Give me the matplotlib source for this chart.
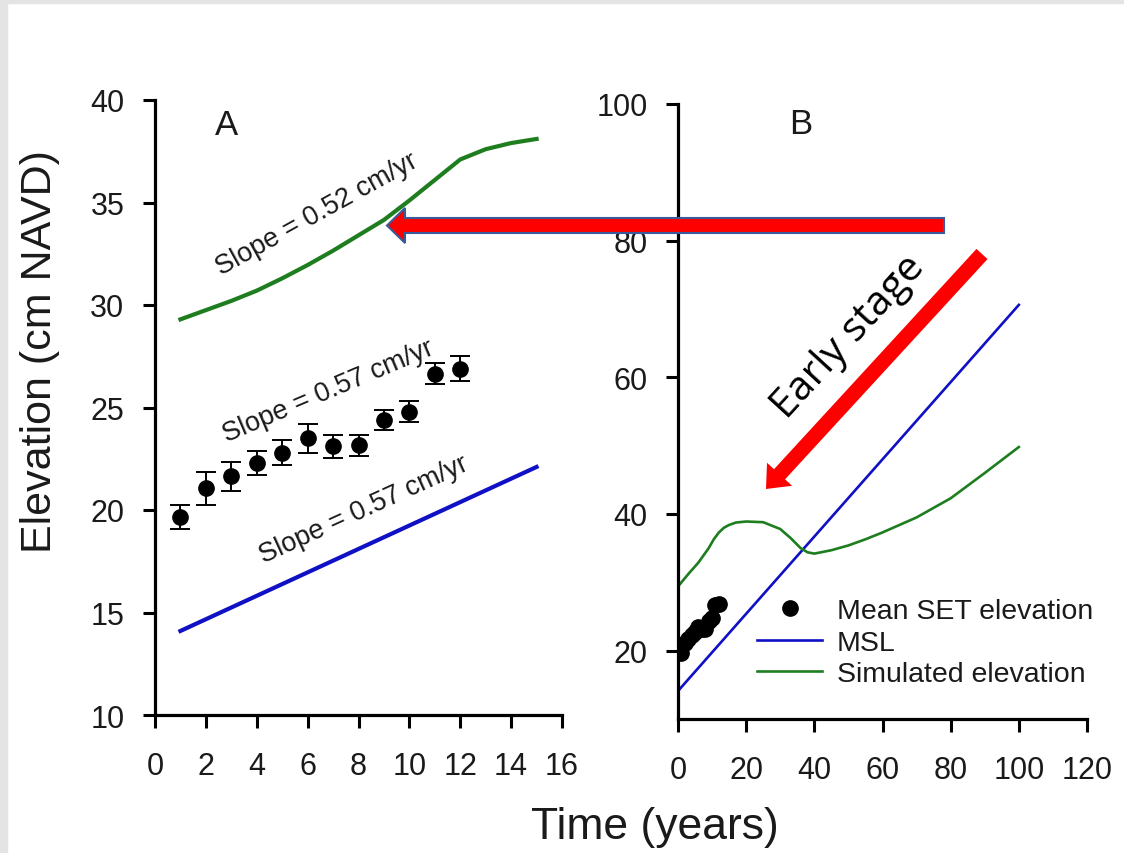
import matplotlib
matplotlib.use("Agg")
import matplotlib.pyplot as plt
from matplotlib.patches import FancyArrow, Rectangle

plt.rcParams['font.family'] = ['Liberation Sans', 'DejaVu Sans']

# ── data ─────────────────────────────────────────────────────────────────────
set_years = [1, 2, 3, 4, 5, 6, 7, 8, 9, 10, 11, 12]
set_elev = [19.65, 21.05, 21.65, 22.3, 22.8, 23.5, 23.1, 23.15, 24.4, 24.8, 26.65, 26.9]
set_err = [0.6, 0.8, 0.7, 0.6, 0.6, 0.7, 0.55, 0.5, 0.5, 0.5, 0.5, 0.6]

sim_a_years = [1, 2, 3, 4, 5, 6, 7, 8, 9, 10, 11, 12, 13, 14, 15]
sim_a_elev = [29.3, 29.75, 30.2, 30.7, 31.3, 31.95, 32.65, 33.4, 34.15, 35.1, 36.1,
              37.1, 37.6, 37.9, 38.1]

msl_a_years = [1, 15]
msl_a_elev = [14.1, 22.1]

msl_b_years = [0, 100]
msl_b_elev = [14.1, 70.6]

sim_b_years = [0, 3, 6, 9, 10.5, 12, 13.5, 15, 17, 20, 25, 30, 33, 36, 38, 40,
               45, 50, 55, 60, 70, 80, 90, 100]
sim_b_elev = [29.4, 31.2, 32.9, 35.0, 36.3, 37.3, 38.0, 38.4, 38.75, 38.9, 38.8,
              37.8, 36.5, 35.0, 34.4, 34.2, 34.7, 35.4, 36.3, 37.3, 39.5, 42.3,
              46.0, 49.8]

a_xticks = [0, 2, 4, 6, 8, 10, 12, 14, 16]
a_yticks = [10, 15, 20, 25, 30, 35, 40]
b_xticks = [0, 20, 40, 60, 80, 100, 120]
b_yticks = [20, 40, 60, 80, 100]

GREEN = '#1e7d1e'
BLUE = '#1010c4'
TXT = '#1a1a1a'

W, H = 1124, 854
fig = plt.figure(figsize=(W / 100, H / 100), dpi=100)
fig.patch.set_facecolor('white')

# light gray frame on the top and left edges
fig.patches.append(Rectangle((0, 0), 7 / W, 1, transform=fig.transFigure,
                             color='#e4e4e4', zorder=0))
fig.patches.append(Rectangle((0, 1 - 4 / H), 1, 4 / H, transform=fig.transFigure,
                             color='#e4e4e4', zorder=0))

axA = fig.add_axes([155 / W, 1 - 716 / H, 407 / W, 615 / H])
axB = fig.add_axes([678 / W, 1 - 720 / H, 409 / W, 615 / H])


def style(ax):
    for s in ['top', 'right']:
        ax.spines[s].set_visible(False)
    for s in ['left', 'bottom']:
        ax.spines[s].set_linewidth(2.3)
        ax.spines[s].set_color('black')
    ax.tick_params(axis='both', direction='out', length=9, width=2.2,
                   labelsize=22, labelcolor=TXT)
    ax.tick_params(axis='x', pad=17)
    ax.tick_params(axis='y', pad=13)
    ax.set_facecolor('none')


# ── panel A ──────────────────────────────────────────────────────────────────
axA.plot(sim_a_years, sim_a_elev, color=GREEN, lw=3.0)
axA.plot(msl_a_years, msl_a_elev, color=BLUE, lw=3.0)
axA.errorbar(set_years, set_elev, yerr=set_err, fmt='o', color='black',
             ms=11, capsize=7, elinewidth=1.4, capthick=1.4)
axA.set_xlim(0, 16)
axA.set_ylim(10, 40)
axA.set_xticks(a_xticks)
axA.set_yticks(a_yticks)
style(axA)

axA.text(2.8, 38.8, 'A', fontsize=25, color=TXT, ha='center', va='center')
axA.text(6.37, 34.45, 'Slope = 0.52 cm/yr', fontsize=19.5, color=TXT, rotation=29,
         ha='center', va='center', rotation_mode='anchor')
axA.text(6.8, 25.8, 'Slope = 0.57 cm/yr', fontsize=19.5, color=TXT, rotation=23,
         ha='center', va='center', rotation_mode='anchor')
axA.text(8.2, 20.05, 'Slope = 0.57 cm/yr', fontsize=19.5, color=TXT, rotation=24.5,
         ha='center', va='center', rotation_mode='anchor')

# ── panel B ──────────────────────────────────────────────────────────────────
axB.plot(set_years, set_elev, 'o', color='black', ms=11, label='Mean SET elevation')
axB.plot(msl_b_years, msl_b_elev, color=BLUE, lw=1.9, label='MSL')
axB.plot(sim_b_years, sim_b_elev, color=GREEN, lw=1.9, label='Simulated elevation')
axB.set_xlim(0, 120)
axB.set_ylim(10, 100)
axB.set_xticks(b_xticks)
axB.set_yticks(b_yticks)
style(axB)
axB.text(36, 97.1, 'B', fontsize=25, color=TXT, ha='center', va='center')

leg = axB.legend(loc='upper left', bbox_to_anchor=(757 / W, 1 - 599 / H),
                 bbox_transform=fig.transFigure, frameon=False, fontsize=20.5,
                 handlelength=2.3, handletextpad=0.5, labelspacing=0.2,
                 borderpad=0, borderaxespad=0)
for t in leg.get_texts():
    t.set_color(TXT)

# shared axis labels
fig.text(655 / W, 1 - 828 / H, 'Time (years)', fontsize=32, color=TXT,
         ha='center', va='center')
fig.text(40 / W, 1 - 352 / H, 'Elevation (cm NAVD)', fontsize=31, color=TXT,
         ha='center', va='center', rotation=90)

# ── arrows (figure inches) ───────────────────────────────────────────────────
inch = fig.dpi_scale_trans
fig.patches.append(FancyArrow(9.44, (H - 226.5) / 100, -5.57, 0, width=0.15,
                              head_width=0.35, head_length=0.18,
                              length_includes_head=True, facecolor='#ff0000',
                              edgecolor='#3a5a9a', lw=1.5, transform=inch,
                              zorder=5))
fig.patches.append(FancyArrow(9.82, (H - 255) / 100, -2.16, -2.35, width=0.15,
                              head_width=0.34, head_length=0.2,
                              length_includes_head=True, facecolor='#ff0000',
                              edgecolor='none', transform=inch, zorder=5))
fig.text(8.49, (H - 337) / 100, 'Early stage', fontsize=29.5, color='black',
         family=['Open Sans', 'DejaVu Sans'], rotation=47.5, ha='center',
         va='center', rotation_mode='anchor', transform=inch)

fig.savefig('out.png', dpi=100)
